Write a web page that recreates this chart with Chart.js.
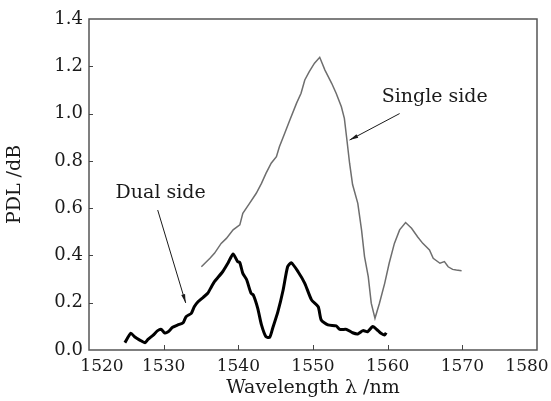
<!DOCTYPE html>
<html>
<head>
<meta charset="utf-8">
<script src="https://cdn.jsdelivr.net/npm/chart.js@4/dist/chart.umd.min.js"></script>
<style>
  html, body { margin: 0; padding: 0; background: #fff; }
</style>
</head>
<body>
<canvas id="pdlChart" width="551" height="401"></canvas>
<script>
// values
const dualWl = [1524.8, 1525.6, 1526.1, 1526.8, 1527.5, 1527.9, 1528.6, 1529.2, 1529.7, 1530.1,
  1530.6, 1531.2, 1531.9, 1532.6, 1533.0, 1533.7, 1534.1, 1534.6, 1535.3, 1535.9,
  1536.4, 1536.8, 1537.9, 1538.6, 1539.3, 1539.9, 1540.2, 1540.6, 1541.1, 1541.7,
  1542.0, 1542.6, 1543.1, 1543.7, 1544.2, 1544.6, 1545.3, 1546.0, 1546.6, 1547.1,
  1548.0, 1548.9, 1549.8, 1550.7, 1551.1, 1552.0, 1553.1, 1553.6, 1554.5, 1555.3,
  1556.0, 1556.7, 1557.3, 1558.0, 1558.7, 1559.1, 1559.6, 1559.8];
const dualPdl = [0.031, 0.071, 0.056, 0.042, 0.031, 0.045, 0.063, 0.082, 0.087, 0.073,
  0.077, 0.096, 0.106, 0.115, 0.141, 0.155, 0.183, 0.204, 0.223, 0.240,
  0.268, 0.289, 0.331, 0.367, 0.406, 0.374, 0.370, 0.324, 0.298, 0.240,
  0.233, 0.176, 0.106, 0.056, 0.054, 0.092, 0.162, 0.254, 0.352, 0.369,
  0.331, 0.282, 0.212, 0.183, 0.127, 0.106, 0.102, 0.087, 0.087, 0.073,
  0.068, 0.082, 0.077, 0.099, 0.082, 0.071, 0.063, 0.073];

const singleWl = [1535.05, 1536.2, 1536.8, 1537.7, 1538.4, 1539.3, 1540.2, 1540.6, 1541.5, 1542.4,
  1543.1, 1543.7, 1544.4, 1545.1, 1545.5, 1546.2, 1546.9, 1547.8, 1548.4, 1548.9,
  1549.5, 1550.2, 1550.9, 1551.6, 1552.5, 1553.1, 1553.8, 1554.2, 1554.5, 1554.9,
  1555.3, 1556.0, 1556.5, 1556.9, 1557.4, 1557.8, 1558.3, 1558.9, 1559.6, 1560.2,
  1560.9, 1561.6, 1562.4, 1563.2, 1564.0, 1564.7, 1565.6, 1566.1, 1567.0, 1567.6,
  1568.1, 1568.7, 1569.2, 1569.9];
const singlePdl = [0.352, 0.388, 0.409, 0.451, 0.472, 0.508, 0.529, 0.578, 0.620, 0.663,
  0.705, 0.747, 0.790, 0.818, 0.860, 0.916, 0.973, 1.044, 1.086, 1.142,
  1.177, 1.213, 1.238, 1.184, 1.128, 1.086, 1.029, 0.980, 0.900, 0.790,
  0.700, 0.620, 0.508, 0.395, 0.310, 0.198, 0.134, 0.198, 0.282, 0.367,
  0.451, 0.508, 0.539, 0.515, 0.479, 0.451, 0.423, 0.388, 0.367, 0.374,
  0.352, 0.341, 0.338, 0.335];

const xTicks = [1520, 1530, 1540, 1550, 1560, 1570, 1580];
const yTicks = [0.0, 0.2, 0.4, 0.6, 0.8, 1.0, 1.2, 1.4];
const labels = ['Dual side', 'Single side'];

const serif = '"DejaVu Serif", "Liberation Serif", serif';
const ink = '#1a1a1a';

function pts(xs, ys) {
  return xs.map((x, i) => ({ x: x, y: ys[i] }));
}

// box, inward ticks, x tick labels and the two arrow notes
const frame = {
  id: 'frame',
  afterDatasetsDraw(chart) {
    const c = chart.ctx;
    const a = chart.chartArea;
    const xs = chart.scales.x, ys = chart.scales.y;
    c.save();
    c.strokeStyle = '#555';
    c.lineWidth = 1.5;
    c.strokeRect(a.left, a.top, a.right - a.left, a.bottom - a.top);

    c.lineWidth = 1;
    c.strokeStyle = '#444';
    c.beginPath();
    xTicks.slice(1, -1).forEach(v => {
      const px = Math.round(xs.getPixelForValue(v)) + 0.5;
      c.moveTo(px, a.bottom); c.lineTo(px, a.bottom - 5);
    });
    yTicks.slice(1, -1).forEach(v => {
      const py = Math.round(ys.getPixelForValue(v)) + 0.5;
      c.moveTo(a.left, py); c.lineTo(a.left + 4, py);
    });
    c.stroke();

    c.fillStyle = ink;
    c.font = '17px ' + serif;
    c.textAlign = 'center';
    c.textBaseline = 'middle';
    xTicks.forEach(v => {
      let px = xs.getPixelForValue(v);
      px = Math.min(Math.max(px, a.left + 13), a.right - 10);
      c.fillText(String(v), px, a.bottom + 17);
    });

    function arrow(x0, y0, x1, y1) {
      const p0x = xs.getPixelForValue(x0), p0y = ys.getPixelForValue(y0);
      const p1x = xs.getPixelForValue(x1), p1y = ys.getPixelForValue(y1);
      const ang = Math.atan2(p1y - p0y, p1x - p0x);
      c.strokeStyle = ink;
      c.lineWidth = 1;
      c.beginPath(); c.moveTo(p0x, p0y); c.lineTo(p1x, p1y); c.stroke();
      c.beginPath();
      c.moveTo(p1x, p1y);
      c.lineTo(p1x - 9 * Math.cos(ang - 0.22), p1y - 9 * Math.sin(ang - 0.22));
      c.lineTo(p1x - 9 * Math.cos(ang + 0.22), p1y - 9 * Math.sin(ang + 0.22));
      c.closePath(); c.fill();
    }
    c.font = '19px ' + serif;
    c.fillText(labels[0], xs.getPixelForValue(1529.6), ys.getPixelForValue(0.664));
    arrow(1529.2, 0.592, 1532.95, 0.199);
    c.fillText(labels[1], xs.getPixelForValue(1566.3), ys.getPixelForValue(1.07));
    arrow(1561.6, 1.0, 1554.9, 0.888);
    c.restore();
  }
};

new Chart(document.getElementById('pdlChart').getContext('2d'), {
  type: 'line',
  data: {
    datasets: [{
      label: labels[1],
      data: pts(singleWl, singlePdl),
      borderColor: '#6e6e6e',
      borderWidth: 1.5,
      pointRadius: 0,
      tension: 0
    }, {
      label: labels[0],
      data: pts(dualWl, dualPdl),
      borderColor: '#000',
      borderWidth: 3,
      pointRadius: 0,
      tension: 0.2
    }]
  },
  options: {
    responsive: false,
    animation: false,
    layout: { padding: { top: 19, right: 14, left: 0, bottom: 0 } },
    plugins: { legend: { display: false }, tooltip: { enabled: false } },
    scales: {
      x: {
        type: 'linear', min: 1520, max: 1580,
        grid: { display: false, drawTicks: false },
        border: { display: false },
        ticks: { display: false, stepSize: 10 },
        title: { display: true, text: 'Wavelength λ /nm', color: ink,
          font: { family: serif, size: 19 }, padding: { top: 0, bottom: 2 } },
        afterFit(s) { s.height = 51; }
      },
      y: {
        min: 0, max: 1.4,
        grid: { display: false, drawTicks: false },
        border: { display: false },
        ticks: { stepSize: 0.2, padding: 6, color: ink,
          font: { family: serif, size: 18 },
          callback: v => v.toFixed(1) },
        title: { display: true, text: 'PDL /dB', color: ink,
          font: { family: serif, size: 19 }, padding: { top: 4, bottom: 0 } },
        afterFit(s) { s.width = 89; }
      }
    }
  },
  plugins: [frame]
});
</script>
</body>
</html>
